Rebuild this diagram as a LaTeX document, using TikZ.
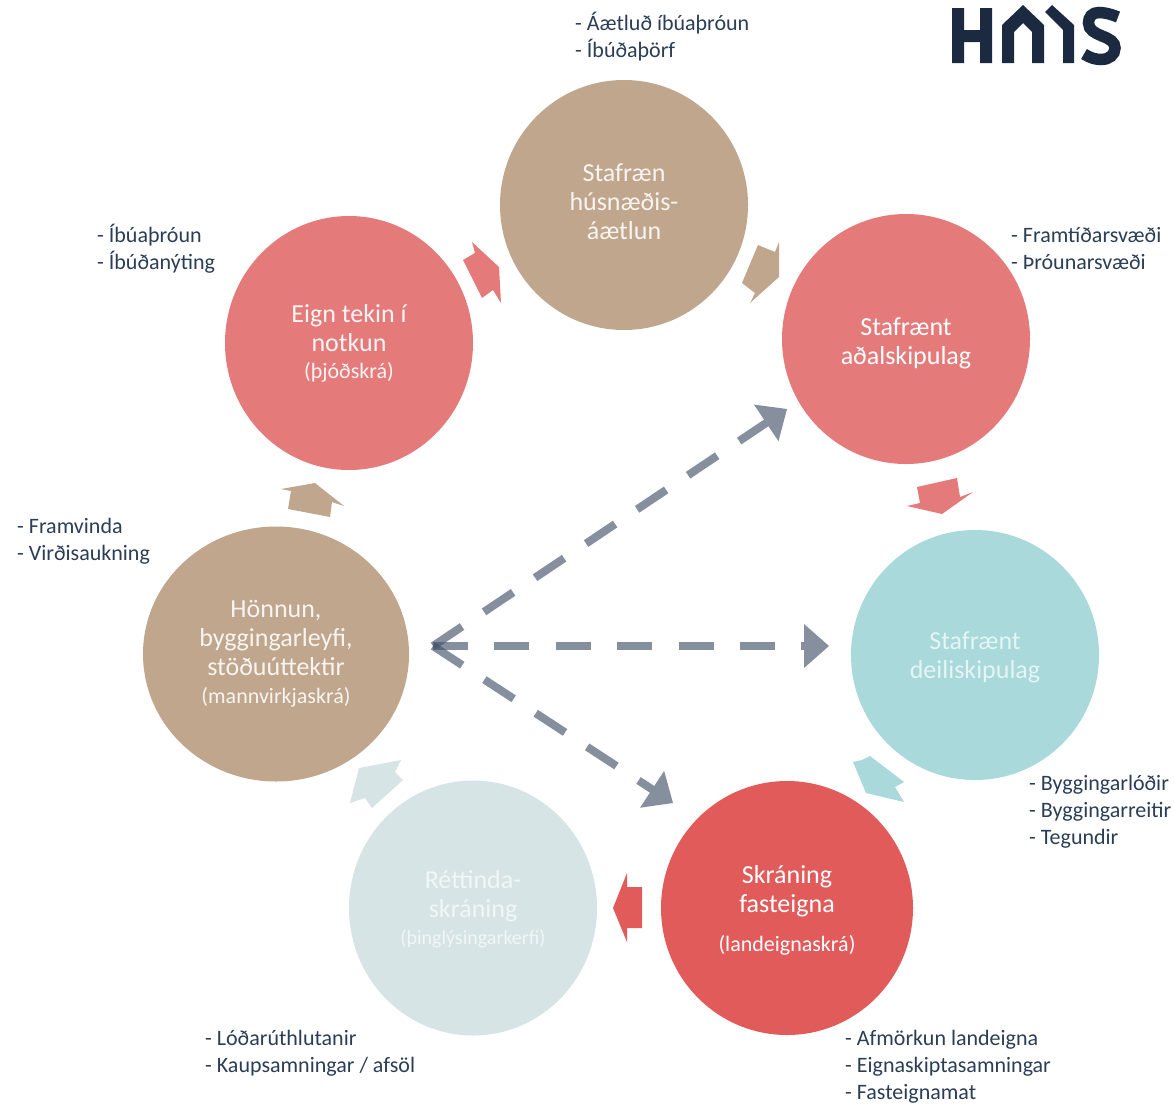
\documentclass[tikz,border=0pt]{standalone}
\usepackage{fontspec}
\setmainfont{Carlito}
\usetikzlibrary{arrows.meta,shapes.geometric}
\definecolor{tanc}{HTML}{BFA68C}
\definecolor{salmonc}{HTML}{E57A7A}
\definecolor{tealc}{HTML}{A9D9DA}
\definecolor{redc}{HTML}{E25B5B}
\definecolor{palec}{HTML}{D6E4E6}
\definecolor{navyc}{HTML}{44546A}
\definecolor{logoc}{HTML}{1B2A41}
\definecolor{listc}{HTML}{2B3E55}
\newcommand{\smalltxt}[2][22]{{\fontsize{#1}{27}\selectfont #2}}
\tikzset{
  stage/.style={ellipse,inner sep=0pt,minimum width=248pt,minimum height=250pt},
  stagetext/.style={align=center,inner sep=0pt,text=white,font=\fontsize{26}{29}\selectfont},
  infolist/.style={anchor=west,align=left,inner sep=0pt,text=listc,font=\fontsize{22}{27}\selectfont},
  dashlink/.style={draw=navyc,opacity=.65,line width=8pt,dash pattern=on 35pt off 26.4pt,
    -{Triangle[length=25pt,width=44pt,line width=0pt]}}
}
\begin{document}
\begin{tikzpicture}[x=1pt,y=-1pt]
\useasboundingbox (0,0) rectangle (1175,1103);
\fill[white] (0,0) rectangle (1175,1103);

% stages
\node[stage,fill=tanc] (plan) at (624,205) {};
\node[stage,fill=salmonc] (adal) at (906,339) {};
\node[stage,fill=tealc] (deili) at (975,655) {};
\node[stage,fill=redc,minimum width=252pt,minimum height=254pt] (fast) at (787,908) {};
\node[stage,fill=palec,minimum height=255pt] (rett) at (473,908) {};
\node[stage,fill=tanc,minimum width=266pt,minimum height=255pt] (honn) at (276,654) {};
\node[stage,fill=salmonc,minimum height=254pt] (eign) at (349,343) {};

\node[stagetext,text=white!88!tanc] (plantxt) at ([yshift=3.5pt]plan.center) {Stafræn\\húsnæðis-\\áætlun};
\node[stagetext] (adaltxt) at ([yshift=-4.5pt]adal.center) {Stafrænt\\aðalskipulag};
\node[stagetext,text=white!70!tealc] (deilitxt) at ([yshift=-2pt]deili.center) {Stafrænt\\deiliskipulag};
\node[stagetext] (fasttxt) at ([yshift=-2.5pt]fast.center) {Skráning\\fasteigna\\[10pt]\smalltxt{(landeignaskrá)}};
\node[stagetext,text=white!65!palec] (retttxt) at ([yshift=-1pt]rett.center) {Réttinda-\\skráning\\[-2pt]\smalltxt[20]{(þinglýsingarkerfi)}};
\node[stagetext,text=white!88!tanc] (honntxt) at (honn.center) {Hönnun,\\byggingarleyfi,\\stöðuúttektir\\[-1pt]\smalltxt{(mannvirkjaskrá)}};
\node[stagetext,text=white!92!salmonc] (eigntxt) at (eign.center) {Eign tekin í\\notkun\\[-2pt]\smalltxt{(þjóðskrá)}};

% block arrows between stages
\fill[salmonc] (463,260)--(475,253)--(472,242)--(499,267)--(501,303)--(493,290)--(482,298)--cycle;
\fill[tanc] (758,245)--(775,252)--(779,242)--(779,277)--(750,303)--(755,293)--(742,283)--cycle;
\fill[salmonc] (917,487)--(957,478)--(960,497)--(973,492)--(942,514)--(907,506)--(920,503)--cycle;
\fill[tealc] (853,762)--(862,760)--(870,756)--(904,782)--(895,787)--(904,802)--(866,793)--cycle;
\fill[redc] (627,873)--(627,887)--(642,887)--(642,928)--(627,928)--(627,942)--(613,908)--cycle;
\fill[palec] (401,760)--(359,768)--(350,803)--(365,798)--(372,808)--(403,780)--(395,772)--cycle;
\fill[tanc] (281,489)--(315,483)--(344,506)--(332,502)--(330,517)--(288,509)--(291,491)--cycle;

% dashed links
\coordinate (hub) at (433,646);
\coordinate (tipA) at (787,409);
\coordinate (tipD) at (829,646);
\coordinate (tipF) at (673,803);
\draw[dashlink] (hub) -- (tipA);
\draw[dashlink] (hub) -- (tipD);
\draw[dashlink] (hub) -- (tipF);

% lists
\node[infolist] (l1) at (575,37) {- Áætluð íbúaþróun\\- Íbúðaþörf};
\node[infolist] (l2) at (1011,249) {- Framtíðarsvæði\\- Þróunarsvæði};
\node[infolist] (l3) at (97,249) {- Íbúaþróun\\- Íbúðanýting};
\node[infolist] (l4) at (17,541) {- Framvinda\\- Virðisaukning};
\node[infolist] (l5) at (1029,811.5) {- Byggingarlóðir\\- Byggingarreitir\\- Tegundir};
\node[infolist] (l6) at (845,1066.5) {- Afmörkun landeigna\\- Eignaskiptasamningar\\- Fasteignamat};
\node[infolist] (l7) at (205,1053) {- Lóðarúthlutanir\\- Kaupsamningar / afsöl};

% logo
\fill[logoc] (952,8)--(964,8)--(964,30)--(980,30)--(980,8)--(992,8)--(992,63)--(980,63)--(980,42)--(964,42)--(964,63)--(952,63)--cycle;
\fill[logoc] (1002,63)--(1002,25)--(1023,5)--(1044,25)--(1044,63)--(1032,63)--(1032,32)--(1023,23)--(1014,32)--(1014,63)--cycle;
\fill[logoc] (1045,12)--(1052,5)--(1074,25)--(1074,63)--(1063,63)--(1063,30)--cycle;
\draw[logoc,line width=11.5pt] (1118,17) .. controls (1108,13) and (1102,12.5) .. (1099,12.5)
  .. controls (1092,12.5) and (1088.5,17) .. (1088.5,23)
  .. controls (1088.5,30) and (1095,33) .. (1102,36)
  .. controls (1110,39) and (1115,42) .. (1115,48)
  .. controls (1115,55) and (1109,59.5) .. (1101,59.5)
  .. controls (1096,59.5) and (1090,58) .. (1084,54);
\end{tikzpicture}
\end{document}
